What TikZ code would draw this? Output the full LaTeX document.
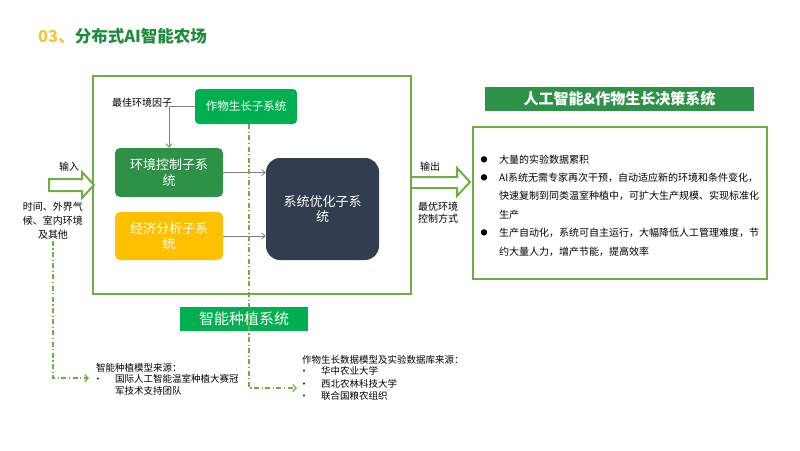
\documentclass[tikz,border=0pt]{standalone}
\usepackage{fontspec}
\setmainfont{Noto Sans CJK SC}
\usetikzlibrary{arrows.meta}
\definecolor{cLine}{RGB}{112,173,71}
\definecolor{cGrow}{RGB}{0,176,80}
\definecolor{cEnv}{RGB}{46,145,72}
\definecolor{cEco}{RGB}{255,192,0}
\definecolor{cOpt}{RGB}{50,62,80}
\definecolor{cGold}{RGB}{246,196,60}
\definecolor{cHead}{RGB}{30,140,60}
\definecolor{cGrey}{RGB}{127,127,127}

\begin{document}
\begin{tikzpicture}[x=1pt,y=-1pt,
  lbl/.style={inner sep=0,font=\fontsize{10}{12}\selectfont},
  sub/.style={rounded corners=5pt,inner sep=0,text=white,align=center,
    font=\fontsize{13}{15.5}\selectfont},
  feed/.style={draw=cGrey,line width=0.8pt,-{Straight Barb[length=3.5pt,width=6pt]}},
  src/.style={draw=cLine,line width=1.2pt,dash pattern=on 5pt off 2.5pt on 1.2pt off 2.5pt,
    -{Straight Barb[length=3.5pt,width=7pt]}},
  block/.style={draw=cLine,line width=2pt,fill=white}]
\useasboundingbox (0,0) rectangle (800,450);
\fill[white] (0,0) rectangle (800,450);

% title
\node[anchor=west,inner sep=0,font=\fontsize{16.5}{18}\bfseries] (title) at (38,36)
  {\textcolor{cGold}{03、}\textcolor{cHead}{分布式AI智能农场}};

% farm
\node[draw=cLine,line width=2pt,minimum width=318,minimum height=218,inner sep=0] (farm) at (252,185) {};
\node[sub,fill=cGrow,rounded corners=4pt,minimum width=102,minimum height=35,
  font=\fontsize{11.5}{14}\selectfont] (grow) at (246,106.5) {作物生长子系统};
\node[sub,fill=cEnv,minimum width=108,minimum height=49] (env) at (169,172.5) {环境控制子系\\统};
\node[sub,fill=cEco,minimum width=108,minimum height=48] (eco) at (169,236) {经济分析子系\\统};
\node[sub,fill=cOpt,rounded corners=14pt,minimum width=113,minimum height=102] (opt) at (322.5,209) {系统优化子系\\统};
\node[lbl] (best) at (142,103) {最佳环境因子};

\draw[feed] (grow.west) -| (env.north);
\draw[feed] (env.east) -- (opt.west |- env.east);
\draw[feed] (eco.east) -- (opt.west |- eco.east);

% in / out
\draw[block] (49,179) -- (82,179) -- (82,172) -- (94,185) -- (82,198) -- (82,191) -- (49,191) -- cycle;
\node[lbl] (inlbl) at (69,167) {输入};
\node[lbl,align=center,font=\fontsize{10}{14}\selectfont] (extern) at (53,221) {时间、外界气\\候、室内环境\\及其他};
\draw[block] (farm.east |- 0,177) -- (457,177) -- (457,168) -- (470,182) -- (457,196) -- (457,188) -- (farm.east |- 0,188);
\node[lbl] (outlbl) at (430,167) {输出};
\node[lbl,align=left] (ctrl) at (438,212.5) {最优环境\\控制方式};

% decision system
\node[fill=cEnv,minimum width=269,minimum height=24,inner sep=0,text=white,
  font=\fontsize{15}{17}\bfseries] (aihead) at (619.5,99) {人工智能\&作物生长决策系统};
\node[draw=cLine,line width=2pt,minimum width=294,minimum height=152,inner sep=0] (aibox) at (620,203) {};
\node[lbl,font=\fontsize{7}{8}\selectfont] (dot1) at (484,160) {●};
\node[lbl,anchor=west] (pt1) at (499,160) {大量的实验数据累积};
\node[lbl,font=\fontsize{7}{8}\selectfont] (dot2) at (484,178) {●};
\node[lbl,anchor=west,align=left,font=\fontsize{10}{18.3}\selectfont] (pt2) at (499,196)
  {AI系统无需专家再次干预，自动适应新的环境和条件变化，\\快速复制到同类温室种植中，可扩大生产规模、实现标准化\\生产};
\node[lbl,font=\fontsize{7}{8}\selectfont] (dot3) at (484,233) {●};
\node[lbl,anchor=west,align=left,font=\fontsize{10}{19}\selectfont] (pt3) at (499,242.5)
  {生产自动化，系统可自主运行，大幅降低人工管理难度，节\\约大量人力，增产节能，提高效率};

% planting system
\node[fill=cGrow,minimum width=128,minimum height=24,inner sep=0,text=white,
  font=\fontsize{15}{17}\selectfont] (plant) at (244,319) {智能种植系统};

% sources
\node[lbl,anchor=west,font=\fontsize{9.5}{12}\selectfont] (srcA) at (96,368) {智能种植模型来源：};
\node[lbl,font=\fontsize{9}{10}\selectfont] (dotA) at (98,380) {•};
\node[lbl,anchor=west,align=left,font=\fontsize{9.5}{12}\selectfont] (srcAtxt) at (115,385)
  {国际人工智能温室种植大赛冠\\军技术支持团队};
\coordinate (toA) at (89,378);

\node[lbl,anchor=west,font=\fontsize{9.5}{12}\selectfont] (srcB) at (302,360) {作物生长数据模型及实验数据库来源：};
\node[lbl,font=\fontsize{9}{10}\selectfont] (dotB1) at (304,372) {•};
\node[lbl,anchor=west,font=\fontsize{9.5}{12}\selectfont] (srcB1) at (321,371) {华中农业大学};
\node[lbl,font=\fontsize{9}{10}\selectfont] (dotB2) at (304,385) {•};
\node[lbl,anchor=west,font=\fontsize{9.5}{12}\selectfont] (srcB2) at (321,384) {西北农林科技大学};
\node[lbl,font=\fontsize{9}{10}\selectfont] (dotB3) at (304,397) {•};
\node[lbl,anchor=west,font=\fontsize{9.5}{12}\selectfont] (srcB3) at (321,396) {联合国粮农组织};
\coordinate (toB) at (297,388);

\draw[src] (extern.south) ++(0,1) |- (toA);
\draw[src] ([xshift=3pt]grow.south) |- (toB);
\end{tikzpicture}
\end{document}
